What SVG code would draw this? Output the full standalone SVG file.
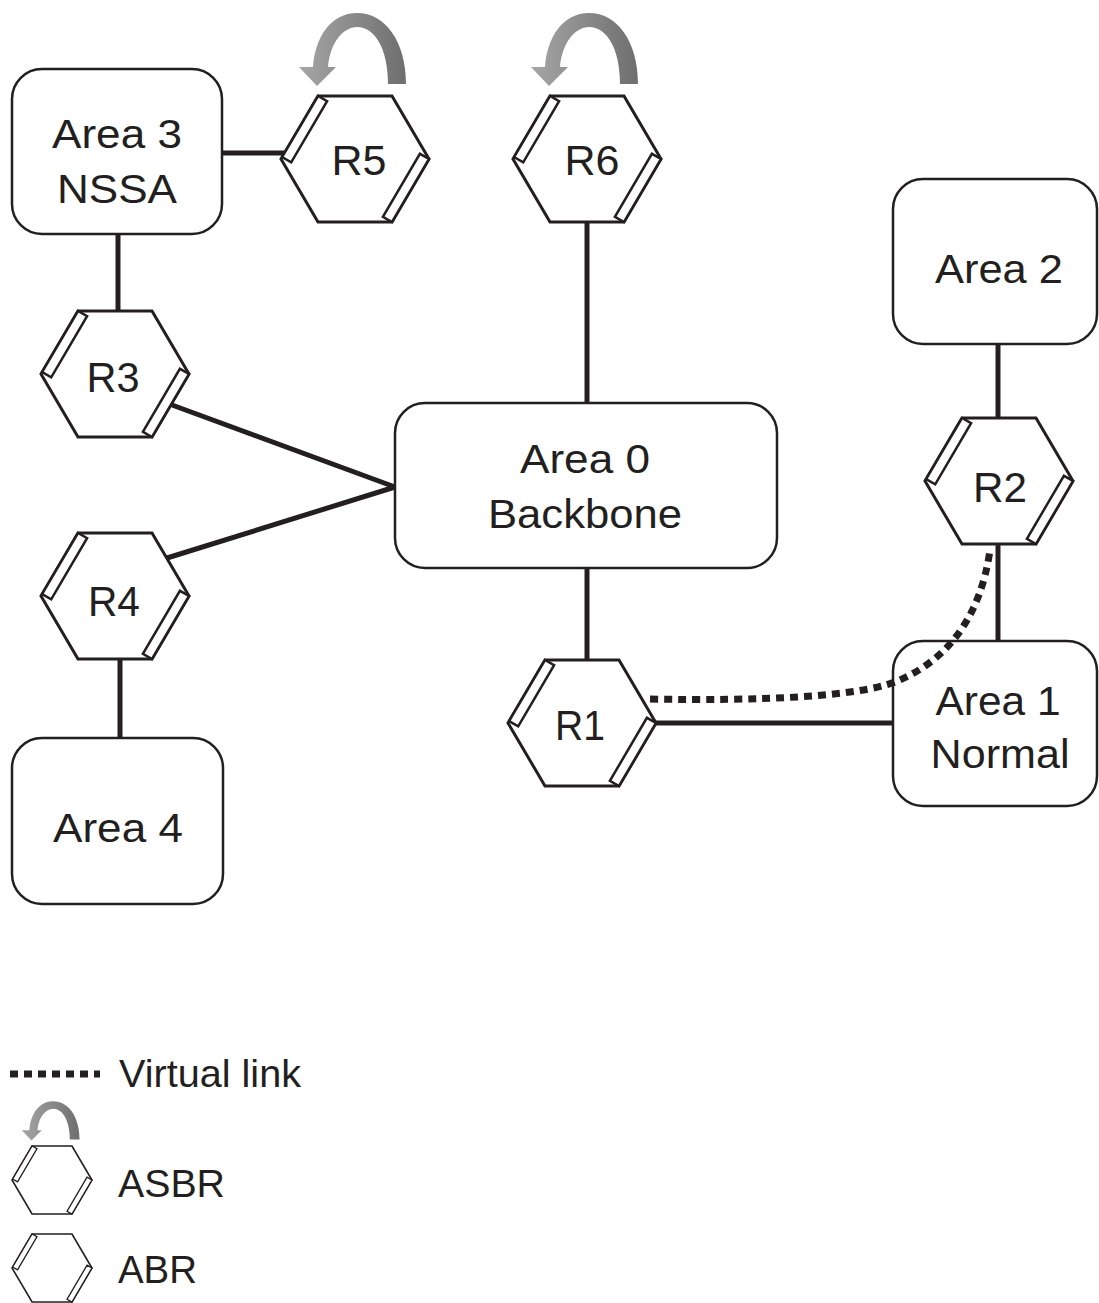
<svg xmlns="http://www.w3.org/2000/svg" width="1099" height="1303" viewBox="0 0 1099 1303">
<style>
.bg{fill:#fff}
.hx{fill:#fff;stroke:#231f20;stroke-width:3;stroke-linejoin:miter}
.rb{fill:#fff;stroke:#231f20;stroke-width:2.5}
.box{fill:#fff;stroke:#231f20;stroke-width:2.5}
.ln{stroke:#231f20;stroke-width:5;fill:none}
.vl{stroke:#231f20;stroke-width:7;fill:none;stroke-dasharray:8 6}
.t{font-family:"Liberation Sans",Arial,sans-serif;font-size:40px;fill:#231f20;text-anchor:middle}
.h{font-family:"Liberation Sans",Arial,sans-serif;font-size:42px;fill:#231f20;text-anchor:middle}
.lg{font-family:"Liberation Sans",Arial,sans-serif;font-size:39px;fill:#231f20}
.ar{fill:url(#gr)}
</style>
<defs>
<linearGradient id="gr" x1="0" y1="0" x2="1" y2="0">
<stop offset="0" stop-color="#a6a6a6"/>
<stop offset="1" stop-color="#6e6e6e"/>
</linearGradient>
<g id="hex">
<polygon class="hx" points="-37,-63 37,-63 74,0 37,63 -37,63 -74,0"/>
<polygon class="rb" points="-37,-63 -72.9,-1.9 -63.8,3.3 -27.9,-57.8"/>
<polygon class="rb" points="74,0 37,63 27.9,57.8 64.9,-5.2"/>
</g>
<path id="asbr" class="ar" d="M51,-75 C51,-118 30,-146 2,-146 C-24,-146 -40,-122 -42,-92 L-56,-92 L-38,-73 L-19,-92 L-27,-92 C-25,-116 -12,-132 2,-132 C20,-132 33,-110 33,-75 Z"/>
</defs>
<rect class="bg" x="0" y="0" width="1099" height="1303"/>

<g id="connectors">
<line class="ln" x1="222" y1="153" x2="284" y2="153"/>
<line class="ln" x1="118" y1="234" x2="118" y2="311"/>
<line class="ln" x1="172" y1="405" x2="395" y2="487"/>
<line class="ln" x1="167" y1="558" x2="395" y2="487"/>
<line class="ln" x1="120" y1="659" x2="120" y2="738"/>
<line class="ln" x1="587" y1="221" x2="587" y2="404"/>
<line class="ln" x1="587" y1="567" x2="587" y2="661"/>
<line class="ln" x1="998" y1="344" x2="998" y2="418"/>
<line class="ln" x1="998" y1="543" x2="998" y2="641"/>
<line class="ln" x1="655" y1="723" x2="893" y2="723"/>
</g>

<g id="area3">
<rect class="box" x="12" y="69" width="210" height="165" rx="30"/>
<text class="t" x="117" y="148" textLength="130" lengthAdjust="spacingAndGlyphs">Area 3</text>
<text class="t" x="117" y="203" textLength="120" lengthAdjust="spacingAndGlyphs">NSSA</text>
</g>
<g id="area0">
<rect class="box" x="395" y="403" width="382" height="165" rx="30"/>
<text class="t" x="585" y="473" textLength="130" lengthAdjust="spacingAndGlyphs">Area 0</text>
<text class="t" x="585" y="528" textLength="194" lengthAdjust="spacingAndGlyphs">Backbone</text>
</g>
<g id="area2">
<rect class="box" x="893" y="179" width="204" height="165" rx="30"/>
<text class="t" x="999" y="283" textLength="128" lengthAdjust="spacingAndGlyphs">Area 2</text>
</g>
<g id="area1">
<rect class="box" x="893" y="641" width="204" height="165" rx="30"/>
<text class="t" x="998" y="715" textLength="125" lengthAdjust="spacingAndGlyphs">Area 1</text>
<text class="t" x="1000" y="768" textLength="139" lengthAdjust="spacingAndGlyphs">Normal</text>
</g>
<g id="area4">
<rect class="box" x="12" y="738" width="211" height="166" rx="30"/>
<text class="t" x="118" y="842" textLength="130" lengthAdjust="spacingAndGlyphs">Area 4</text>
</g>

<g id="r5">
<use href="#asbr" transform="translate(355,159)"/>
<use href="#hex" transform="translate(355,159)"/>
<text class="h" x="359" y="175" textLength="55" lengthAdjust="spacingAndGlyphs">R5</text>
</g>
<g id="r6">
<use href="#asbr" transform="translate(587,159)"/>
<use href="#hex" transform="translate(587,159)"/>
<text class="h" x="592" y="175" textLength="55" lengthAdjust="spacingAndGlyphs">R6</text>
</g>
<g id="r3">
<use href="#hex" transform="translate(115,374)"/>
<text class="h" x="113" y="392" textLength="53" lengthAdjust="spacingAndGlyphs">R3</text>
</g>
<g id="r4">
<use href="#hex" transform="translate(115,596)"/>
<text class="h" x="114" y="616" textLength="52" lengthAdjust="spacingAndGlyphs">R4</text>
</g>
<g id="r2">
<use href="#hex" transform="translate(999,481)"/>
<text class="h" x="1000" y="502" textLength="54" lengthAdjust="spacingAndGlyphs">R2</text>
</g>
<g id="r1">
<use href="#hex" transform="translate(582,723)"/>
<text class="h" x="580" y="740" textLength="50" lengthAdjust="spacingAndGlyphs">R1</text>
</g>

<g id="virtual-link">
<path class="vl" d="M650,699 C760,701 855,697 895,682 C945,662 980,620 990,550"/>
</g>

<g id="legend">
<line class="vl" x1="10" y1="1074" x2="100" y2="1074"/>
<text class="lg" x="119" y="1087" textLength="182" lengthAdjust="spacingAndGlyphs">Virtual link</text>
<g transform="translate(52,1180) scale(0.54)">
<use href="#asbr"/>
<use href="#hex"/>
</g>
<text class="lg" x="118" y="1197" textLength="107" lengthAdjust="spacingAndGlyphs">ASBR</text>
<g transform="translate(52,1268) scale(0.54)">
<use href="#hex"/>
</g>
<text class="lg" x="118" y="1283" textLength="79" lengthAdjust="spacingAndGlyphs">ABR</text>
</g>
</svg>
